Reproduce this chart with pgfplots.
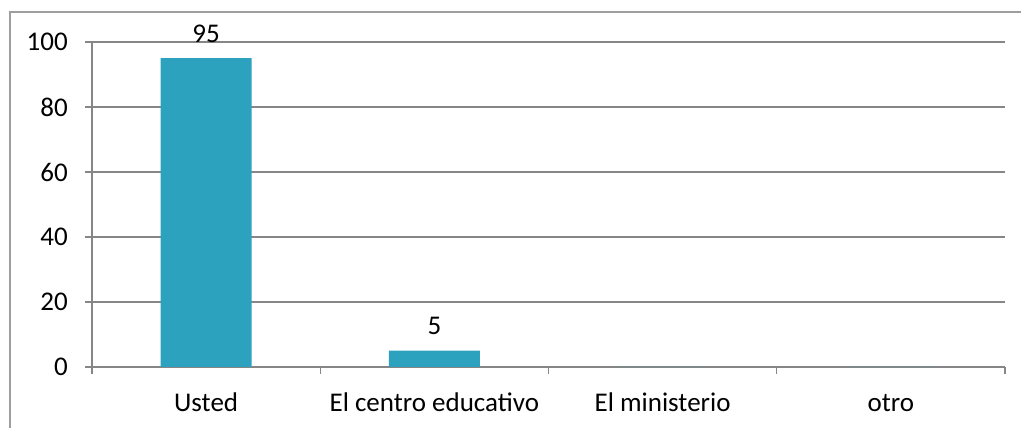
\documentclass[border=0pt]{standalone}
\usepackage{pgfplots}
\pgfplotsset{compat=1.18}
\usepackage{fontspec}
\setmainfont{Carlito}
\definecolor{barblue}{HTML}{2CA2BF}
\definecolor{gridgray}{HTML}{868686}
\begin{document}
\begin{tikzpicture}[x=0.75pt,y=0.75pt]
\useasboundingbox (-69pt,-45.75pt) rectangle (696.75pt,275.25pt);
\draw[gridgray!80, line width=0.9pt] (-61.5pt,-60pt) -- (-61.5pt,266.25pt) -- (720pt,266.25pt);
\begin{axis}[
    at={(0,0)}, anchor=south west,
    scale only axis,
    width=684.75pt, height=243.75pt,
    ybar, bar width=68.25pt,
    xmin=-0.5, xmax=3.5,
    ymin=0, ymax=100,
    ytick={0,20,...,100},
    xtick={0,1,2,3},
    xticklabels={Usted, El centro educativo, El ministerio, otro},
    minor xtick={-0.5,0.5,1.5,2.5,3.5},
    major x tick style={draw=none},
    tick align=outside,
    major tick length=5.25pt,
    minor tick length=5.25pt,
    tick style={gridgray, line width=0.9pt},
    axis x line*=bottom, axis y line*=left,
    axis line style={gridgray, line width=0.9pt, -},
    ymajorgrids,
    grid style={gridgray, line width=0.9pt},
    font=\fontsize{20.25}{24}\selectfont,
    yticklabel style={anchor=east, inner sep=0pt, xshift=-12.75pt},
    xticklabel style={anchor=base, inner sep=0pt, yshift=-28pt},
    /pgf/number format/assume math mode=true,
    nodes near coords,
    nodes near coords style={font=\fontsize{20.25}{24}\selectfont, anchor=base, inner sep=0pt, yshift=12pt},
    point meta=explicit symbolic,
]
\addplot[fill=barblue, draw=none] coordinates {
  (0,95) [95]
  (1,5) [5]
  (2,0) []
  (3,0) []
};
\end{axis}
\end{tikzpicture}
\end{document}
